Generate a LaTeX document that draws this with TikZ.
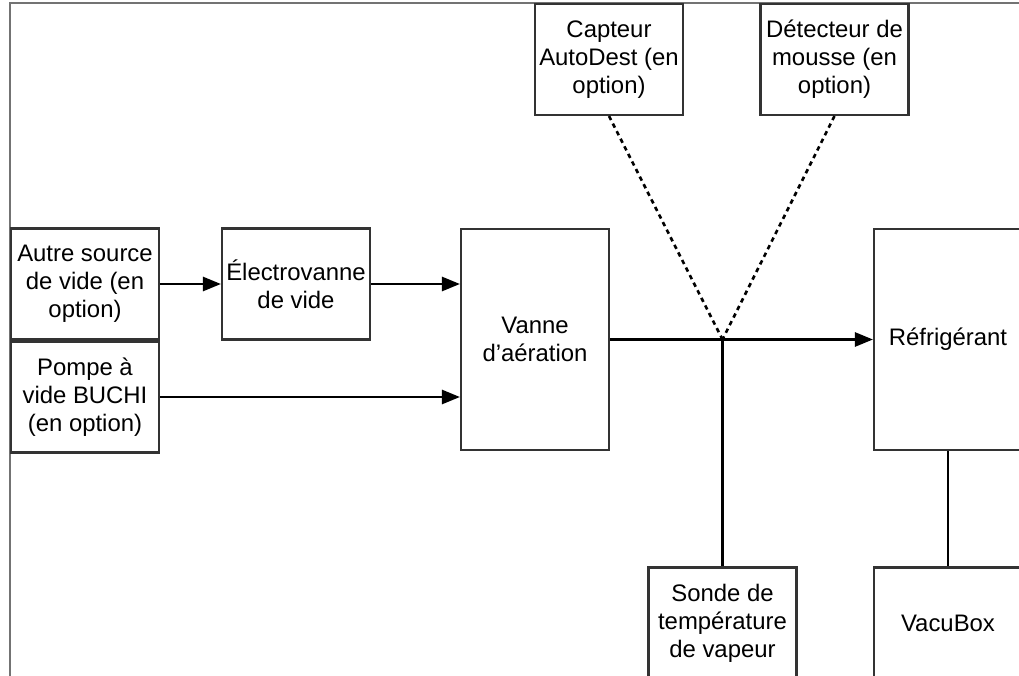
\documentclass[tikz,border=0pt]{standalone}
\usepackage{fontspec}
\setmainfont{Liberation Sans}
\usetikzlibrary{positioning, arrows.meta}
\tikzset{
    bloc/.style={
        draw=black!80,
        line width=1.2pt,
        align=center,
        inner sep=2pt,
        minimum width=2.96cm,
        minimum height=2.22cm,
        font=\fontsize{13.6pt}{16pt}\selectfont,
    },
    grand/.style={bloc, minimum height=4.42cm},
    flux/.style={line width=1.5pt, -{Triangle[length=0.36cm, width=0.28cm]}},
    liaison/.style={line width=1.5pt},
    pointille/.style={line width=1.5pt, dash pattern=on 0.09cm off 0.08cm},
}

\begin{document}
\begin{tikzpicture}[x=0.02cm, y=-0.02cm]
   \useasboundingbox (0,0) rectangle (1019,676);
   % cadre
   \draw[black!55, line width=0.7pt] (10,690) -- (10,3) -- (1030,3);

   \node[bloc] (autre) at (85,284) {Autre source\\de vide (en\\option)};
   \node[bloc] (pompe) at (85,397) {Pompe à\\vide BUCHI\\(en option)};
   \node[bloc] (electro) at (296,284) {Électrovanne\\de vide};
   \node[grand] (vanne) at (535,339.5) {Vanne\\d’aération};
   \node[grand] (refrig) at (948,339.5) {Réfrigérant};
   \node[bloc] (capteur) at (609,59.5) {Capteur\\AutoDest (en\\option)};
   \node[bloc] (mousse) at (834.5,59.5) {Détecteur de\\mousse (en\\option)};
   \node[bloc] (sonde) at (722.5,623) {Sonde de\\température\\de vapeur};
   \node[bloc] (vacubox) at (948,623) {VacuBox};

   \coordinate (j) at (sonde.north |- vanne.east);

   \draw[flux] (autre.east) -- (electro.west);
   \draw[flux] (electro.east) -- (electro.east -| vanne.west);
   \draw[flux] (pompe.east) -- (pompe.east -| vanne.west);
   \draw[flux] (vanne.east) -- (refrig.west);
   \draw[liaison] (j) -- (sonde.north);
   \draw[liaison] (refrig.south) -- (vacubox.north);
   \draw[pointille] (capteur.south) -- (j);
   \draw[pointille] (mousse.south) -- (j);
\end{tikzpicture}
\end{document}
